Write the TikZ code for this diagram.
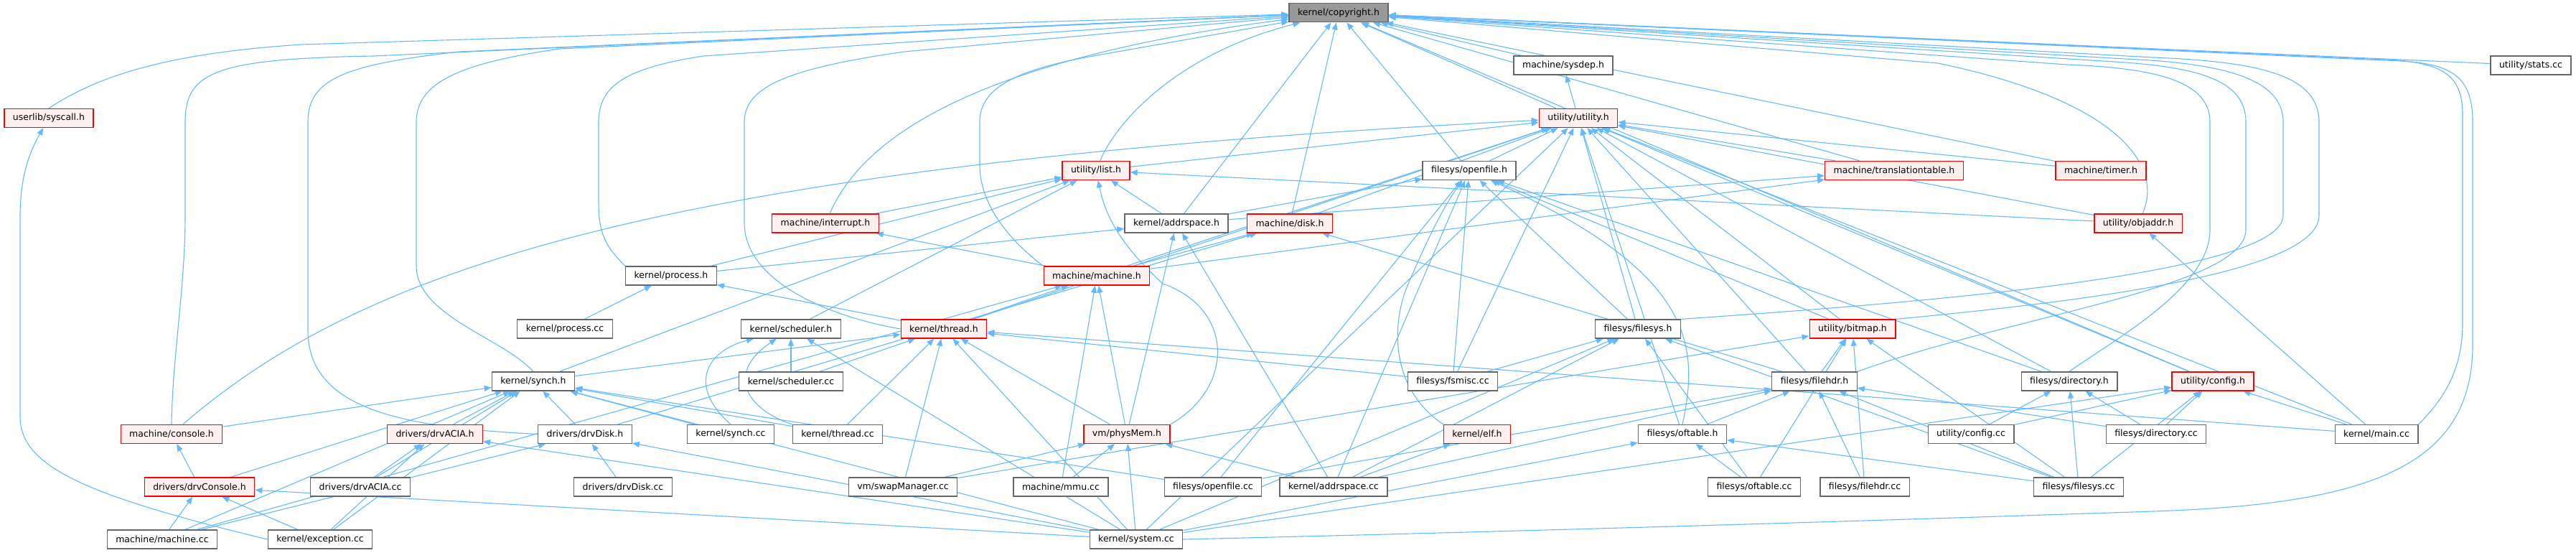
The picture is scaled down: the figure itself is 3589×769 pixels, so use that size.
\documentclass[tikz,border=0pt]{standalone}
\usepackage{fontspec}
\setmainfont{DejaVu Sans}
\usetikzlibrary{arrows.meta}
\definecolor{ndgray}{HTML}{666666}
\definecolor{topgray}{HTML}{999999}
\definecolor{pinkfill}{HTML}{FFF0F0}
\definecolor{rdline}{HTML}{FF0000}
\definecolor{edgeblue}{HTML}{63B8FF}
\pgfdeclarelayer{bg}
\pgfsetlayers{bg,main}
\newcommand{\ndfont}{\fontsize{12.5}{14}\selectfont}
\tikzset{
  nd/.style={draw=ndgray, fill=white, line width=1.3pt, minimum height=26pt, inner xsep=12pt, inner ysep=0pt, font=\ndfont},
  rd/.style={nd, draw=rdline, fill=pinkfill},
  tp/.style={nd, fill=topgray},
  e/.style={draw=edgeblue, line width=1.1pt, -{Triangle[length=10pt,width=8pt]}}
}
\begin{document}
\begin{tikzpicture}[x=1pt,y=-1pt]
\useasboundingbox (0,0) rectangle (3589,769);
% row 0
\node[tp] (cp) at (1865,17.8) {kernel/copyright.h};
% row 1
\node[nd] (sysdep) at (2178,91) {machine/sysdep.h};
\node[nd] (stats) at (3526,91) {utility/stats.cc};
% row 2
\node[rd] (syscall) at (68,164.5) {userlib/syscall.h};
\node[rd] (util) at (2199,164.5) {utility/utility.h};
% row 3
\node[rd] (list) at (1527,237.5) {utility/list.h};
\node[nd] (ofh) at (2047,237.5) {filesys/openfile.h};
\node[rd] (tt) at (2639,237.5) {machine/translationtable.h};
\node[rd] (timer) at (2927,237.5) {machine/timer.h};
% row 4
\node[rd] (intr) at (1150,311) {machine/interrupt.h};
\node[nd] (ash) at (1639,311) {kernel/addrspace.h};
\node[rd] (disk) at (1797,311) {machine/disk.h};
\node[rd] (objaddr) at (2979,311) {utility/objaddr.h};
% row 5
\node[nd] (proch) at (935,384) {kernel/process.h};
\node[rd] (mach) at (1528,384) {machine/machine.h};
% row 6
\node[nd] (proccc) at (787,458) {kernel/process.cc};
\node[nd] (schedh) at (1102,458) {kernel/scheduler.h};
\node[rd] (thrh) at (1315,458) {kernel/thread.h};
\node[nd] (fsh) at (2282,458) {filesys/filesys.h};
\node[rd] (bitmap) at (2581,458) {utility/bitmap.h};
% row 7
\node[nd] (synchh) at (743,531) {kernel/synch.h};
\node[nd] (schedcc) at (1102,531) {kernel/scheduler.cc};
\node[nd] (fsmisc) at (2024,531) {filesys/fsmisc.cc};
\node[nd] (fhdrh) at (2528,531) {filesys/filehdr.h};
\node[nd] (dirh) at (2883,531) {filesys/directory.h};
\node[rd] (cfgh) at (3083,531) {utility/config.h};
% row 8
\node[rd] (console) at (239,604.5) {machine/console.h};
\node[rd] (aciah) at (606,604.5) {drivers/drvACIA.h};
\node[nd] (dskh) at (815,604.5) {drivers/drvDisk.h};
\node[nd] (synchcc) at (1018,604.5) {kernel/synch.cc};
\node[nd] (thrcc) at (1167,604.5) {kernel/thread.cc};
\node[rd] (phys) at (1570,604.5) {vm/physMem.h};
\node[rd] (elf) at (2058,604.5) {kernel/elf.h};
\node[nd] (oftableh) at (2344,604.5) {filesys/oftable.h};
\node[nd] (cfgcc) at (2746,604.5) {utility/config.cc};
\node[nd] (dircc) at (3004,604.5) {filesys/directory.cc};
\node[nd] (maincc) at (3311,604.5) {kernel/main.cc};
% row 9
\node[rd] (dconh) at (278,678) {drivers/drvConsole.h};
\node[nd] (aciacc) at (502,678) {drivers/drvACIA.cc};
\node[nd] (dskcc) at (868,678) {drivers/drvDisk.cc};
\node[nd] (swap) at (1258,678) {vm/swapManager.cc};
\node[nd] (mmu) at (1478,678) {machine/mmu.cc};
\node[nd] (ofcc) at (1690,678) {filesys/openfile.cc};
\node[nd] (ascc) at (1858,678) {kernel/addrspace.cc};
\node[nd] (oftcc) at (2444,678) {filesys/oftable.cc};
\node[nd] (fhdrcc) at (2598,678) {filesys/filehdr.cc};
\node[nd] (fscc) at (2896,678) {filesys/filesys.cc};
% row 10
\node[nd] (machcc) at (226,751) {machine/machine.cc};
\node[nd] (exccc) at (446,751) {kernel/exception.cc};
\node[nd] (syscc) at (1583,751) {kernel/system.cc};

\begin{pgfonlayer}{bg}
\foreach \a/\b in {sysdep/cp, util/cp, util/sysdep, stats/cp, list/util, ofh/cp, ofh/util,
  tt/cp, tt/util, timer/cp, timer/util, intr/list, ash/cp, ash/list, ash/ofh, ash/tt,
  disk/cp, disk/util, objaddr/util, objaddr/list, proch/list, proch/ash, mach/util,
  mach/intr, mach/tt, mach/disk, proccc/proch, schedh/list, thrh/util, thrh/mach,
  thrh/proch, fsh/ofh, fsh/util, bitmap/util, bitmap/ofh, synchh/thrh, synchh/list,
  schedcc/schedh, schedcc/thrh, fsmisc/fsh, fsmisc/ofh, fsmisc/util, fsmisc/thrh,
  fhdrh/bitmap, fhdrh/disk, fhdrh/util, dirh/ofh, dirh/util, cfgh/cp, cfgh/util,
  console/synchh, aciah/synchh, dskh/synchh, dskh/disk, synchcc/synchh, thrcc/thrh,
  thrcc/synchh, phys/thrh, phys/mach, phys/ash, oftableh/fhdrh, oftableh/util,
  cfgcc/cfgh, cfgcc/dirh, dircc/dirh, dircc/cfgh, dircc/fhdrh, maincc/cfgh, maincc/thrh,
  maincc/objaddr, maincc/util, dconh/console, dconh/synchh, aciacc/aciah, aciacc/synchh,
  dskcc/dskh, swap/thrh, swap/phys, swap/bitmap, mmu/mach, mmu/phys, ofcc/ofh,
  ofcc/fhdrh, ofcc/synchh, ascc/ash, ascc/elf, ascc/fhdrh, ascc/fsh, ascc/ofh, ascc/phys,
  oftcc/oftableh, oftcc/fsh, oftcc/bitmap, fhdrcc/fhdrh, fhdrcc/bitmap, fscc/dirh,
  fscc/fhdrh, fscc/fsh, fscc/cfgh, fscc/bitmap, fscc/oftableh, machcc/dconh, machcc/mach,
  machcc/dskh, machcc/synchh, exccc/dconh, exccc/aciah, exccc/synchh, syscc/phys,
  syscc/thrh, syscc/schedh, syscc/dconh, syscc/aciah, syscc/dskh, syscc/fsh,
  syscc/oftableh, syscc/cfgh, syscc/synchh, syscc/util}
  \draw[e] (\a) -- (\b);
% curved routes
\draw[e] (syscall.north) .. controls (130,110) and (220,75) .. (420,62) -- (cp);
\draw[e] (exccc.west) .. controls (120,690) and (28,650) .. (28,580) -- (28,300) .. controls (28,240) and (45,205) .. (syscall);
\draw[e] (console.north) .. controls (240,500) and (258,400) .. (258,300) -- (258,170) .. controls (258,100) and (300,82) .. (520,78) -- (cp);
\draw[e] (dskh.west) .. controls (560,595) and (429,570) .. (429,460) -- (429,170) .. controls (429,110) and (480,90) .. (640,72) -- (cp);
\draw[e] (synchh.north) .. controls (700,470) and (580,440) .. (580,370) -- (580,170) .. controls (580,115) and (640,88) .. (780,68) -- (cp);
\draw[e] (proch.north west) .. controls (840,340) and (834,320) .. (834,280) -- (834,170) .. controls (834,120) and (870,95) .. (980,78) -- (cp);
\draw[e] (thrh.west) .. controls (1150,440) and (1037,390) .. (1037,310) -- (1037,170) .. controls (1037,120) and (1100,95) .. (1260,72) -- (cp);
\draw[e] (mach.north west) .. controls (1400,330) and (1365,280) .. (1365,230) -- (1365,170) .. controls (1365,120) and (1420,95) .. (1540,75) -- (cp);
\draw[e] (list) .. controls (1555,170) and (1640,75) .. (cp);
\draw[e] (intr) .. controls (1190,220) and (1300,90) .. (cp);
\draw[e] (objaddr) .. controls (3015,230) and (2950,140) .. (2700,88) -- (cp);
\draw[e] (dirh.north) .. controls (2950,470) and (3079,400) .. (3079,320) -- (3079,170) .. controls (3079,115) and (3010,95) .. (2880,90) -- (cp);
\draw[e] (fhdrh.north east) .. controls (2800,440) and (3129,400) .. (3129,320) -- (3129,170) .. controls (3129,110) and (3060,92) .. (2930,85) -- (cp);
\draw[e] (fsh.north east) .. controls (2700,420) and (3181,380) .. (3181,300) -- (3181,170) .. controls (3181,110) and (3100,88) .. (2960,82) -- (cp);
\draw[e] (bitmap.north east) .. controls (2900,420) and (3231,380) .. (3231,300) -- (3231,170) .. controls (3231,105) and (3150,86) .. (3000,80) -- (cp);
\draw[e] (maincc.north east) .. controls (3400,560) and (3431,520) .. (3431,450) -- (3431,160) .. controls (3431,100) and (3400,84) .. (3300,82) -- (cp);
\draw[e] (syscc.east) .. controls (2200,738) and (2700,722) .. (3000,712) .. controls (3300,702) and (3445,650) .. (3445,480) -- (3445,170) .. controls (3445,100) and (3410,86) .. (3320,84) -- (cp);
\draw[e] (console) .. controls (500,380) and (900,230) .. (util);
\draw[e] (thrcc.north west) .. controls (1040,570) and (1010,520) .. (schedh);
\draw[e] (synchcc.north) .. controls (960,540) and (980,490) .. (schedh);
\draw[e] (phys.north east) .. controls (1720,540) and (1720,430) .. (1620,395) .. controls (1560,340) and (1540,300) .. (list);
\draw[e] (elf.north west) .. controls (1935,540) and (1940,450) .. (1960,400) .. controls (1990,330) and (2010,290) .. (ofh);
\draw[e] (oftableh.north) .. controls (2368,480) and (2360,380) .. (ofh);
\end{pgfonlayer}
\end{tikzpicture}
\end{document}
